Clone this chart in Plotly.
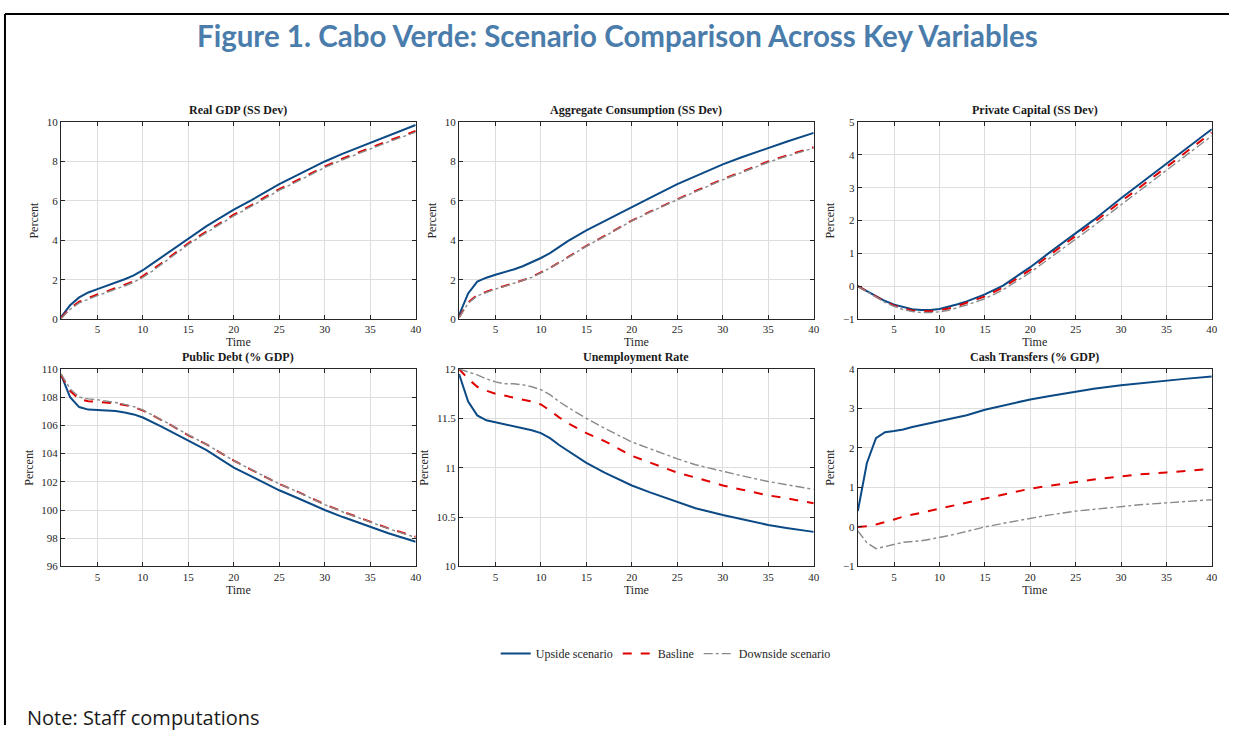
import plotly.graph_objects as go

# Time periods at which each path is recorded
time = [1, 2, 3, 4, 5, 6, 7, 8, 9, 10, 11, 12, 13, 15, 17, 20, 22, 25, 27, 30, 32, 35, 37, 40]

# Real GDP (SS Dev)
gdp_up = [0.1, 0.7, 1.1, 1.35, 1.52, 1.68, 1.85, 2.02, 2.22, 2.48, 2.8, 3.12, 3.45, 4.12, 4.72, 5.55, 6.05, 6.85, 7.3, 8.0, 8.4, 8.95, 9.3, 9.85]
gdp_base = [0.05, 0.55, 0.88, 1.08, 1.25, 1.4, 1.56, 1.73, 1.92, 2.18, 2.48, 2.82, 3.16, 3.85, 4.45, 5.3, 5.8, 6.6, 7.05, 7.75, 8.15, 8.7, 9.05, 9.55]
gdp_down = [0.03, 0.5, 0.82, 1.02, 1.19, 1.35, 1.51, 1.68, 1.87, 2.12, 2.42, 2.76, 3.1, 3.79, 4.39, 5.24, 5.74, 6.54, 6.99, 7.69, 8.09, 8.64, 8.99, 9.49]

# Aggregate Consumption (SS Dev)
cons_up = [0.2, 1.3, 1.9, 2.1, 2.25, 2.38, 2.52, 2.68, 2.87, 3.1, 3.35, 3.65, 3.97, 4.5, 4.98, 5.7, 6.15, 6.85, 7.25, 7.85, 8.2, 8.7, 9.0, 9.45]
cons_base = [0.1, 0.85, 1.22, 1.4, 1.55, 1.68, 1.82, 1.97, 2.14, 2.36, 2.6, 2.87, 3.15, 3.72, 4.22, 5.0, 5.45, 6.1, 6.5, 7.1, 7.45, 8.0, 8.3, 8.72]
cons_down = [0.08, 0.8, 1.18, 1.37, 1.52, 1.66, 1.8, 1.95, 2.12, 2.34, 2.58, 2.85, 3.13, 3.7, 4.2, 4.98, 5.43, 6.07, 6.47, 7.07, 7.42, 7.96, 8.26, 8.68]

# Private Capital (SS Dev)
cap_up = [0.0, -0.15, -0.3, -0.45, -0.56, -0.64, -0.7, -0.72, -0.72, -0.69, -0.63, -0.55, -0.46, -0.25, 0.02, 0.58, 1.0, 1.6, 2.02, 2.68, 3.1, 3.75, 4.15, 4.78]
cap_base = [0.0, -0.16, -0.32, -0.47, -0.59, -0.68, -0.74, -0.76, -0.76, -0.73, -0.68, -0.6, -0.51, -0.31, -0.04, 0.5, 0.92, 1.52, 1.94, 2.58, 3.0, 3.65, 4.05, 4.68]
cap_down = [0.0, -0.17, -0.34, -0.49, -0.61, -0.71, -0.77, -0.8, -0.8, -0.78, -0.73, -0.66, -0.57, -0.38, -0.11, 0.42, 0.83, 1.42, 1.84, 2.48, 2.9, 3.55, 3.95, 4.58]

# Public Debt (% GDP)
debt_up = [109.6, 108.0, 107.3, 107.12, 107.1, 107.08, 107.02, 106.92, 106.78, 106.56, 106.26, 105.93, 105.6, 104.9, 104.25, 103.0, 102.35, 101.4, 100.85, 100.0, 99.5, 98.8, 98.35, 97.75]
debt_base = [109.6, 108.45, 107.85, 107.72, 107.67, 107.62, 107.55, 107.45, 107.3, 107.06, 106.75, 106.4, 106.05, 105.3, 104.65, 103.5, 102.83, 101.85, 101.3, 100.4, 99.88, 99.15, 98.7, 98.1]
debt_down = [109.65, 108.6, 108.0, 107.88, 107.82, 107.73, 107.62, 107.49, 107.33, 107.09, 106.77, 106.42, 106.07, 105.32, 104.66, 103.5, 102.83, 101.85, 101.29, 100.38, 99.86, 99.13, 98.68, 98.06]

# Unemployment Rate
unemp_up = [11.95, 11.67, 11.53, 11.48, 11.46, 11.44, 11.42, 11.4, 11.38, 11.35, 11.3, 11.23, 11.17, 11.05, 10.95, 10.82, 10.75, 10.65, 10.59, 10.52, 10.48, 10.42, 10.39, 10.35]
unemp_base = [12.0, 11.9, 11.82, 11.78, 11.75, 11.73, 11.71, 11.69, 11.67, 11.64, 11.58, 11.51, 11.45, 11.35, 11.27, 11.12, 11.05, 10.95, 10.9, 10.82, 10.78, 10.72, 10.69, 10.64]
unemp_down = [12.0, 11.97, 11.94, 11.9, 11.87, 11.85, 11.85, 11.84, 11.82, 11.79, 11.74, 11.67, 11.61, 11.5, 11.4, 11.26, 11.19, 11.09, 11.03, 10.96, 10.92, 10.86, 10.83, 10.78]

# Cash Transfers (% GDP)
cash_up = [0.4, 1.62, 2.25, 2.4, 2.43, 2.47, 2.53, 2.58, 2.63, 2.68, 2.72, 2.77, 2.83, 2.97, 3.08, 3.23, 3.31, 3.43, 3.5, 3.59, 3.64, 3.71, 3.75, 3.81]
cash_base = [0.0, 0.02, 0.06, 0.12, 0.19, 0.26, 0.31, 0.37, 0.42, 0.47, 0.52, 0.57, 0.62, 0.73, 0.83, 0.97, 1.04, 1.14, 1.2, 1.28, 1.33, 1.38, 1.42, 1.47]
cash_down = [-0.1, -0.4, -0.55, -0.5, -0.44, -0.39, -0.37, -0.35, -0.31, -0.27, -0.22, -0.17, -0.11, 0.0, 0.09, 0.22, 0.3, 0.4, 0.45, 0.52, 0.56, 0.61, 0.64, 0.69]

panel_titles = ["Real GDP (SS Dev)", "Aggregate Consumption (SS Dev)", "Private Capital (SS Dev)",
                "Public Debt (% GDP)", "Unemployment Rate", "Cash Transfers (% GDP)"]
series_names = ["Upside scenario", "Basline", "Downside scenario"]
panel_data = [
    (gdp_up, gdp_base, gdp_down),
    (cons_up, cons_base, cons_down),
    (cap_up, cap_base, cap_down),
    (debt_up, debt_base, debt_down),
    (unemp_up, unemp_base, unemp_down),
    (cash_up, cash_base, cash_down),
]
y_ranges = [[0, 10], [0, 10], [-1, 5], [96, 110], [10, 12], [-1, 4]]
y_ticks = [
    [0, 2, 4, 6, 8, 10],
    [0, 2, 4, 6, 8, 10],
    [-1, 0, 1, 2, 3, 4, 5],
    [96, 98, 100, 102, 104, 106, 108, 110],
    [10, 10.5, 11, 11.5, 12],
    [-1, 0, 1, 2, 3, 4],
]
x_ticks = [5, 10, 15, 20, 25, 30, 35, 40]

W, H = 1235, 731


def px_x(x):
    return (x + 2.0) / W


def px_y(y):
    # pixel row (from top) -> paper fraction (from bottom)
    return 1 - (365 + (y - 365) / 0.985) / H


col_px = [(59.3, 415.7), (459.3, 815.7), (860.0, 1215.7)]
row_px = [(121.7, 319.0), (369.0, 566.7)]

line_styles = [
    dict(color="#0c4a86", width=2, dash="solid"),
    dict(color="#e00000", width=2, dash="dash"),
    dict(color="#8a8a8a", width=1.4, dash="dashdot"),
]

serif = "Liberation Serif, Times New Roman, serif"
axis_color = "#262626"

fig = go.Figure()
layout_axes = {}
annotations = []

for i, (title, series) in enumerate(zip(panel_titles, panel_data)):
    r, c = divmod(i, 3)
    n = i + 1
    xa = "x" if n == 1 else f"x{n}"
    ya = "y" if n == 1 else f"y{n}"
    for k, (vals, name) in enumerate(zip(series, series_names)):
        fig.add_trace(go.Scatter(
            x=time, y=vals, mode="lines", name=name,
            line=line_styles[k], xaxis=xa, yaxis=ya,
            showlegend=(i == 0), legendrank=k,
        ))
    x0, x1 = col_px[c]
    top, bot = row_px[r]
    common = dict(
        showline=True, mirror="allticks", linecolor=axis_color, linewidth=1,
        ticks="inside", ticklen=4, tickcolor=axis_color,
        showgrid=True, gridcolor="#dedede", gridwidth=1, zeroline=False,
        tickfont=dict(family=serif, size=11, color=axis_color),
    )
    layout_axes["xaxis" if n == 1 else f"xaxis{n}"] = dict(
        common, domain=[px_x(x0), px_x(x1)], range=[1, 40], tickvals=x_ticks,
        anchor=ya, title=dict(text="Time", font=dict(family=serif, size=12, color=axis_color), standoff=0),
    )
    layout_axes["yaxis" if n == 1 else f"yaxis{n}"] = dict(
        common, domain=[px_y(bot), px_y(top)], range=y_ranges[i], tickvals=y_ticks[i],
        anchor=xa, title=dict(text="Percent", font=dict(family=serif, size=12, color=axis_color), standoff=5),
    )
    annotations.append(dict(
        text=f"<b>{title}</b>", x=(px_x(x0) + px_x(x1)) / 2, y=px_y(top - 3),
        xref="paper", yref="paper", xanchor="center", yanchor="bottom", showarrow=False,
        font=dict(family=serif, size=12, color="#1a1a1a"),
    ))

annotations.append(dict(
    text="<b>Figure 1. Cabo Verde: Scenario Comparison Across Key Variables</b>",
    x=px_x(619), y=px_y(35), xref="paper", yref="paper", xanchor="center", yanchor="middle",
    showarrow=False, font=dict(family="Lato, Open Sans, sans-serif", size=29.5, color="#4a7dab"),
))
annotations.append(dict(
    text="Note: Staff computations", x=px_x(23), y=px_y(718), xref="paper", yref="paper",
    xanchor="left", yanchor="middle", showarrow=False,
    font=dict(family="Open Sans, Noto Sans, sans-serif", size=20, color="#1a1a1a"),
))

shapes = [
    dict(type="line", xref="paper", yref="paper", x0=px_x(3), x1=1, y0=px_y(13.5), y1=px_y(13.5),
         line=dict(color="black", width=2)),
    dict(type="line", xref="paper", yref="paper", x0=px_x(3), x1=px_x(3), y0=0, y1=px_y(13.5),
         line=dict(color="black", width=2)),
]

fig.update_layout(
    width=W, height=H, margin=dict(l=0, r=0, t=0, b=0),
    paper_bgcolor="white", plot_bgcolor="white",
    annotations=annotations, shapes=shapes,
    legend=dict(orientation="h", x=px_x(667), y=px_y(654), xanchor="center", yanchor="middle",
                font=dict(family=serif, size=12, color=axis_color), itemwidth=30,
                bgcolor="rgba(0,0,0,0)", traceorder="normal", tracegroupgap=0),
    **layout_axes,
)

fig.write_html("out.html")
